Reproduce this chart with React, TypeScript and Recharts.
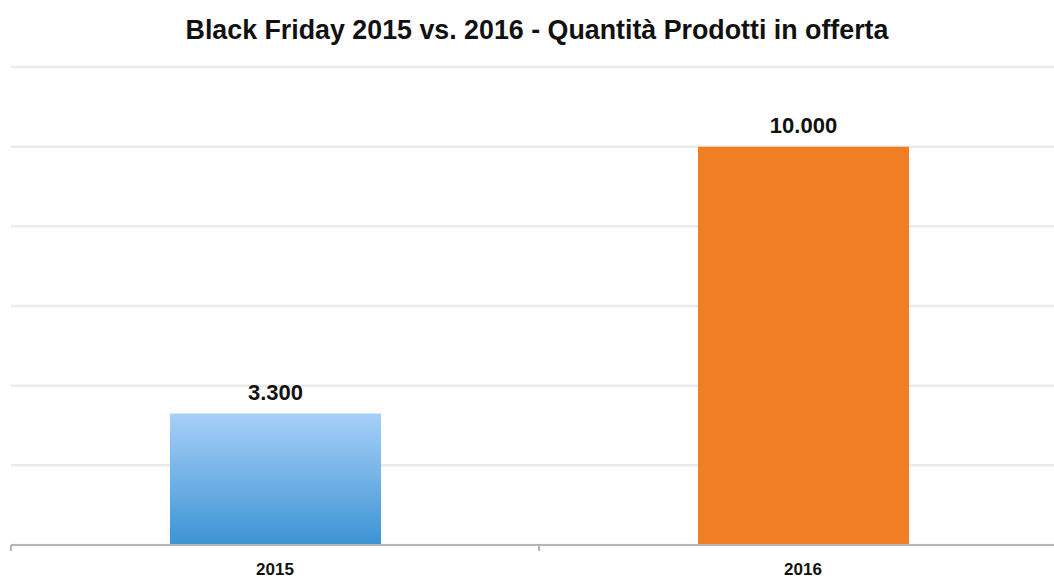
import { BarChart, Bar, XAxis, YAxis, CartesianGrid, LabelList, Cell } from "recharts";

// dati del grafico
const years = ["2015", "2016"];
const products = [3300, 10000];
const yTicks = [0, 2000, 4000, 6000, 8000, 10000, 12000];
const barFills = ["url(#blu2015)", "#f07f23"];

const data = years.map((year, i) => ({ year, value: products[i] }));

// 3300 -> "3.300"
const fmt = (v: any) => String(v).replace(/\B(?=(\d{3})+(?!\d))/g, ".");

const AXIS_GREY = "#b5b5b5";

// etichetta anno + trattino sul bordo sinistro della categoria
function YearTick(props: any) {
  const { x, y, payload } = props;
  const half = payload.offset || 0;
  return (
    <g>
      <line x1={x - half} x2={x - half} y1={y} y2={y + 6} stroke={AXIS_GREY} strokeWidth={2} />
      <text
        x={x}
        y={y + 30}
        textAnchor="middle"
        fill="#111"
        fontSize={17}
        fontWeight="bold"
      >
        {payload.value}
      </text>
    </g>
  );
}

export default function App() {
  return (
    <div
      style={{
        position: "absolute",
        top: 0,
        left: 0,
        width: 1054,
        height: 581,
        overflow: "hidden",
        background: "#fff",
        fontFamily: "'Liberation Sans', Arial, sans-serif",
      }}
    >
      <div
        style={{
          position: "absolute",
          top: 14,
          left: 0,
          width: 1074,
          textAlign: "center",
          fontSize: 26.8,
          lineHeight: "32px",
          fontWeight: "bold",
          color: "#111",
        }}
      >
        Black Friday 2015 vs. 2016 - Quantità Prodotti in offerta
      </div>
      <BarChart
        width={1070}
        height={581}
        data={data}
        margin={{ top: 67, right: 3, left: 11, bottom: 0 }}
      >
        <defs>
          <linearGradient id="blu2015" x1="0" y1="0" x2="0" y2="1">
            <stop offset="0%" stopColor="#a7d0f8" />
            <stop offset="100%" stopColor="#3c94d4" />
          </linearGradient>
        </defs>
        <CartesianGrid vertical={false} stroke="#ebebeb" strokeWidth={2.5} />
        <YAxis hide domain={[0, 12000]} ticks={yTicks} />
        <XAxis
          dataKey="year"
          height={36}
          axisLine={{ stroke: AXIS_GREY, strokeWidth: 2 }}
          tickLine={false}
          tickSize={0}
          tickMargin={0}
          tick={<YearTick />}
        />
        <Bar dataKey="value" barSize={211} isAnimationActive={false}>
          {data.map((d, i) => (
            <Cell key={d.year} fill={barFills[i]} />
          ))}
          <LabelList
            dataKey="value"
            position="top"
            offset={14}
            formatter={fmt}
            style={{ fill: "#111", fontSize: 22, fontWeight: "bold" }}
          />
        </Bar>
      </BarChart>
    </div>
  );
}
